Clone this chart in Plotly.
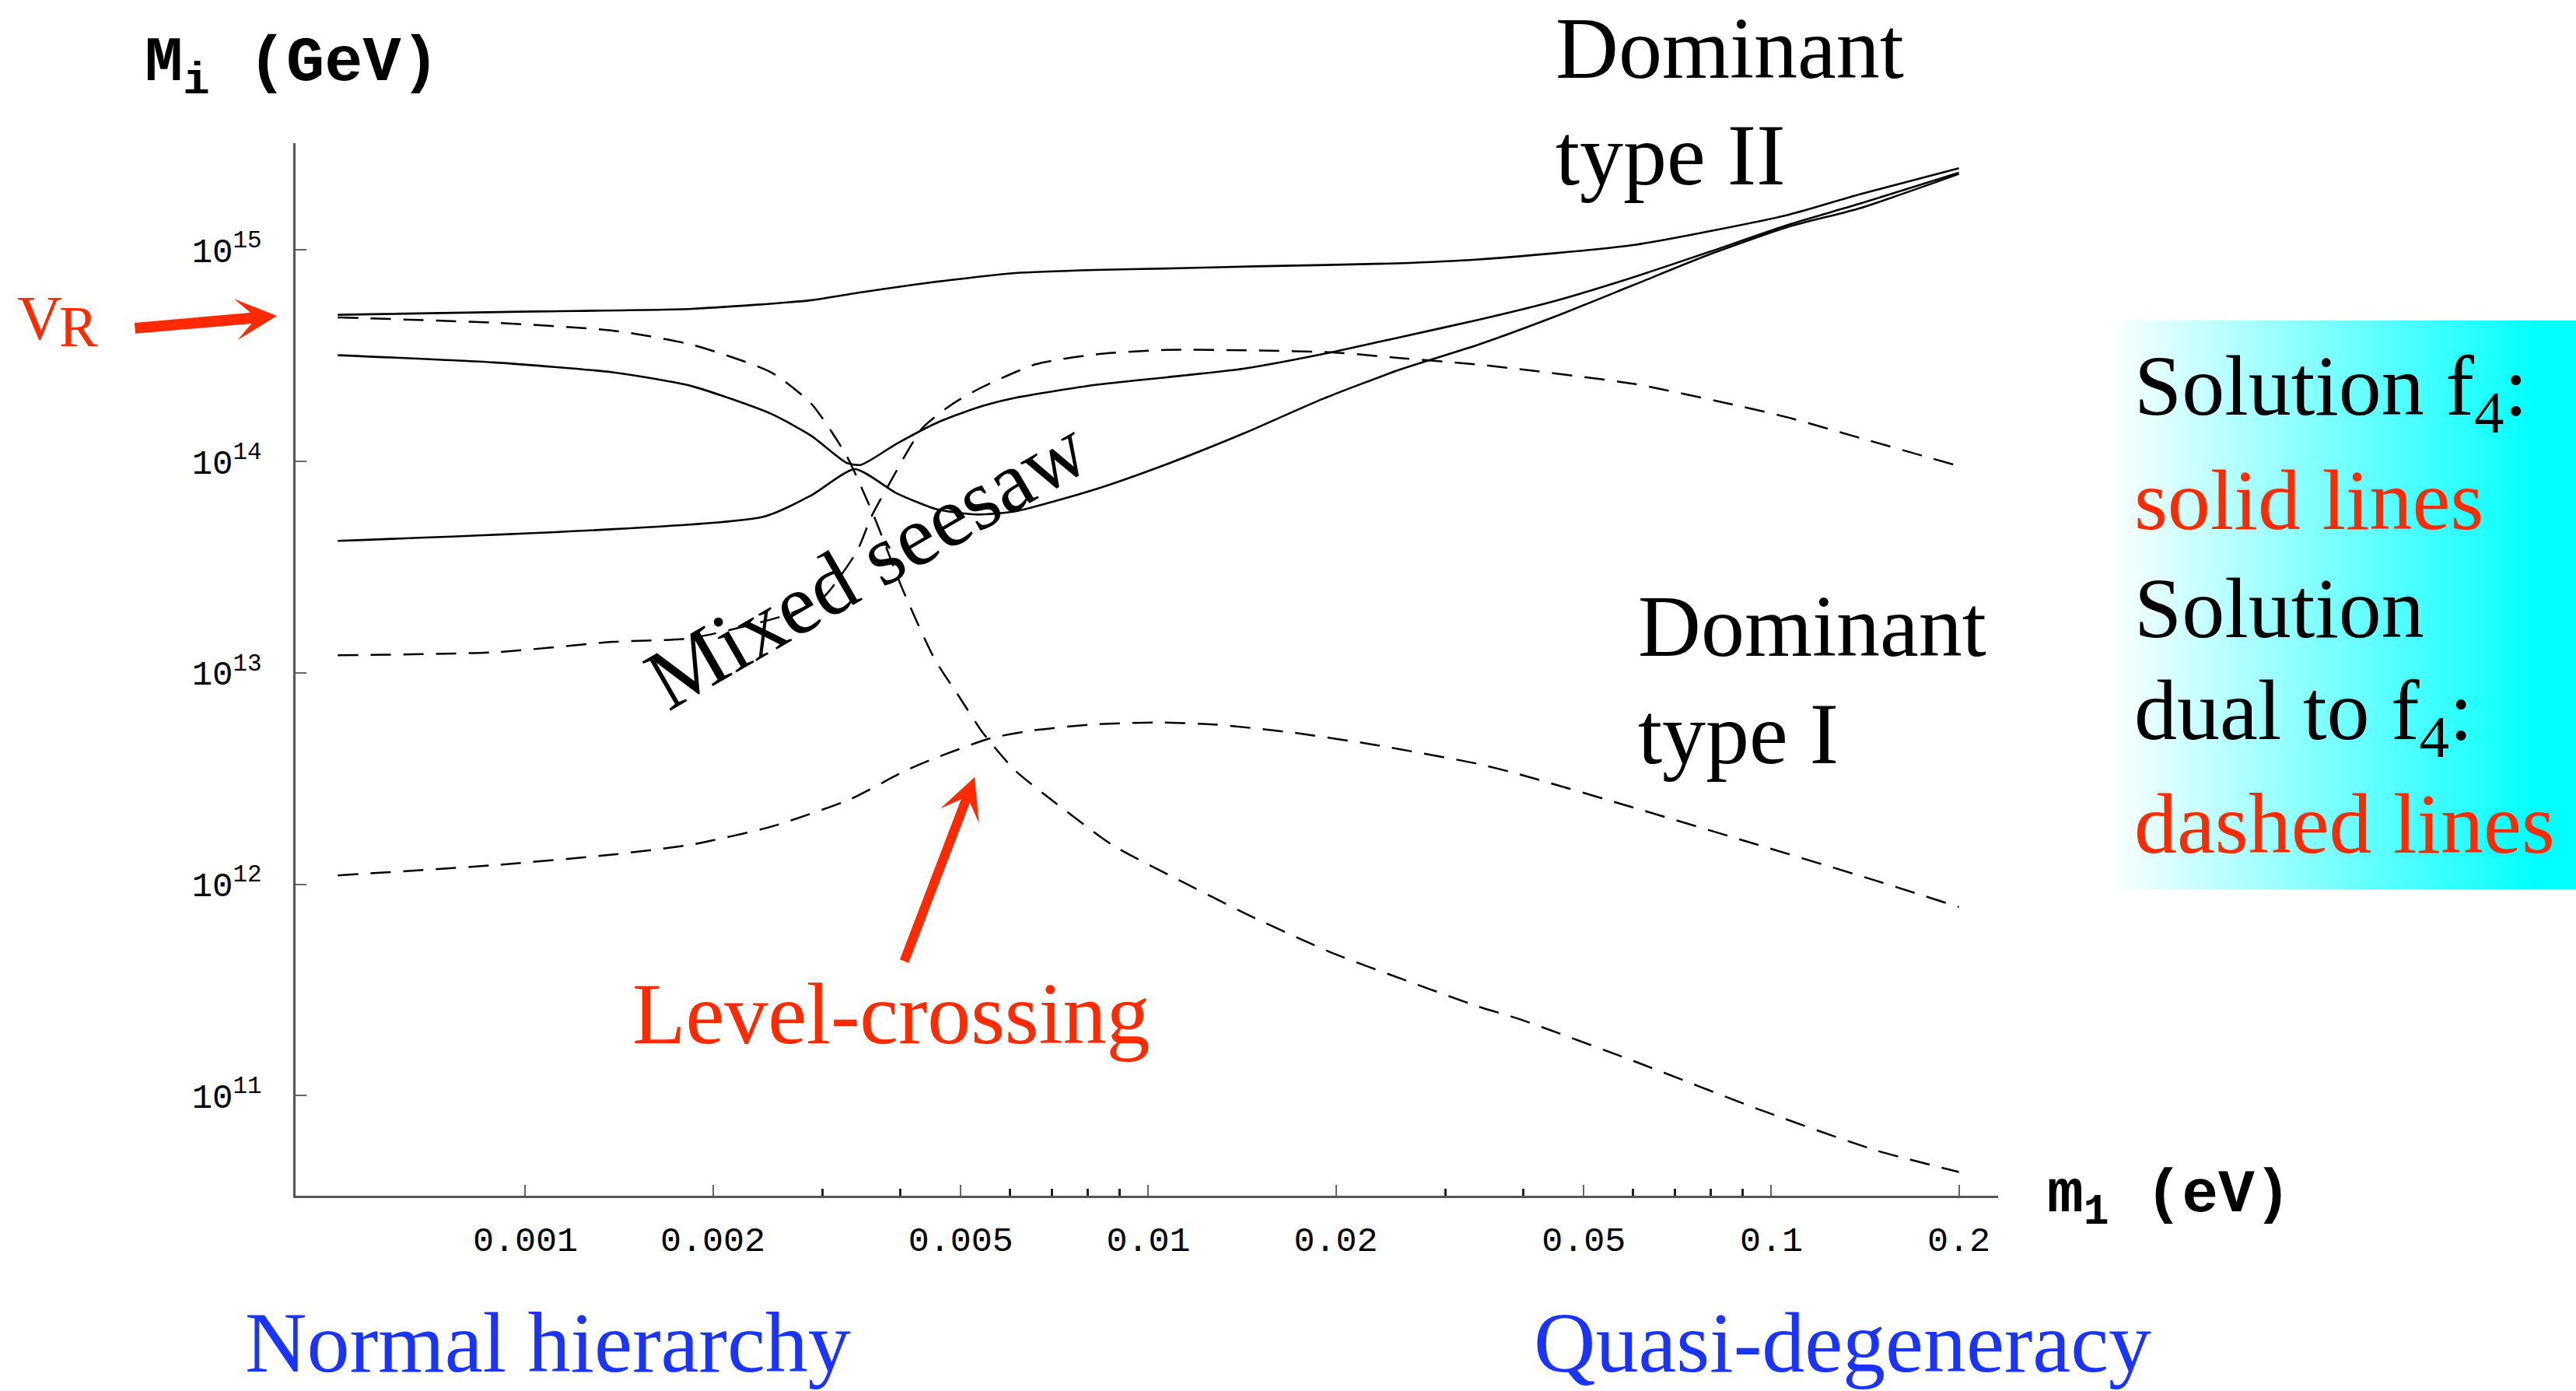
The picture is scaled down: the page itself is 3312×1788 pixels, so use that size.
import plotly.graph_objects as go

# ---------------- data (m1 in eV, M in GeV) ----------------
# Solution f4 : solid lines
s1_m1 = [0.0005, 0.00103, 0.00185, 0.00288, 0.00341, 0.0042, 0.00457, 0.00612, 0.00822,
         0.0107, 0.0148, 0.0251, 0.0338, 0.06, 0.1067, 0.139, 0.2]
s1_M = [4.94e14, 5.12e14, 5.27e14, 5.79e14, 6.27e14, 6.85e14, 7.08e14, 7.78e14, 8.05e14,
        8.18e14, 8.37e14, 8.65e14, 9.02e14, 1.055e15, 1.47e15, 1.84e15, 2.44e15]

s2_m1 = [0.0005, 0.00089, 0.00138, 0.00185, 0.00248, 0.00288, 0.00328, 0.00346, 0.00394,
         0.00457, 0.00529, 0.00612, 0.00822, 0.0107, 0.01426, 0.01956, 0.02535, 0.0338,
         0.045, 0.06, 0.08, 0.1067, 0.139, 0.2]
s2_M = [3.18e14, 2.94e14, 2.64e14, 2.27e14, 1.68e14, 1.32e14, 9.84e13, 9.64e13, 1.21e14,
        1.52e14, 1.79e14, 2.0e14, 2.30e14, 2.50e14, 2.75e14, 3.27e14, 3.87e14, 4.67e14,
        5.75e14, 7.43e14, 9.86e14, 1.32e15, 1.66e15, 2.32e15]

s3_m1 = [0.0005, 0.00241, 0.00288, 0.00338, 0.00394, 0.00457, 0.00529, 0.00612, 0.00822,
         0.0107, 0.01426, 0.0190, 0.02535, 0.0338, 0.045, 0.06, 0.08, 0.1067, 0.139, 0.2]
s3_M = [4.21e13, 5.47e13, 6.92e13, 9.20e13, 7.08e13, 5.94e13, 5.61e13, 5.81e13, 7.38e13,
        9.70e13, 1.36e14, 1.97e14, 2.72e14, 3.56e14, 4.85e14, 6.82e14, 9.59e14, 1.29e15,
        1.58e15, 2.29e15]

# Solution dual to f4 : dashed lines
d1_m1 = [0.0005, 0.00089, 0.00138, 0.00185, 0.00248, 0.00288, 0.00328, 0.00364, 0.00404,
         0.00454, 0.00497, 0.00542, 0.0061, 0.00706, 0.00879, 0.01096, 0.01469, 0.01968,
         0.02642, 0.0338, 0.0394, 0.0611, 0.0948, 0.147, 0.2]
d1_M = [4.80e14, 4.53e14, 4.16e14, 3.57e14, 2.64e14, 1.87e14, 1.06e14, 5.37e13, 2.45e13,
        1.16e13, 7.71e12, 5.22e12, 3.47e12, 2.45e12, 1.52e12, 1.08e12, 7.0e11, 4.74e11,
        3.43e11, 2.64e11, 2.30e11, 1.43e11, 8.67e10, 5.51e10, 4.35e10]

d2_m1 = [0.0005, 0.00089, 0.00138, 0.00185, 0.00264, 0.00301, 0.00341, 0.00359, 0.00381,
         0.00434, 0.00485, 0.00537, 0.00659, 0.00822, 0.0107, 0.0148, 0.0198, 0.0251,
         0.0343, 0.06, 0.0895, 0.1067, 0.139, 0.2]
d2_M = [1.21e13, 1.25e13, 1.40e13, 1.46e13, 1.89e13, 2.28e13, 3.78e13, 5.45e13, 7.53e13,
        1.44e14, 1.87e14, 2.22e14, 2.88e14, 3.21e14, 3.37e14, 3.35e14, 3.28e14, 3.09e14,
        2.86e14, 2.33e14, 1.82e14, 1.61e14, 1.29e14, 9.5e13]

d3_m1 = [0.0005, 0.00089, 0.00138, 0.00185, 0.00248, 0.00333, 0.00404, 0.00454, 0.00558,
         0.00656, 0.00817, 0.0102, 0.0127, 0.0170, 0.0228, 0.0338, 0.0394, 0.0611, 0.0948,
         0.147, 0.2]
d3_M = [1.10e12, 1.23e12, 1.38e12, 1.54e12, 1.87e12, 2.53e12, 3.40e12, 3.94e12, 4.90e12,
        5.35e12, 5.70e12, 5.82e12, 5.70e12, 5.22e12, 4.59e12, 3.71e12, 3.31e12, 2.27e12,
        1.54e12, 1.04e12, 7.8e11]

x_tickvals = [0.001, 0.002, 0.005, 0.01, 0.02, 0.05, 0.1, 0.2]
x_ticktext = ["0.001", "0.002", "0.005", "0.01", "0.02", "0.05", "0.1", "0.2"]
x_minorvals = [0.003, 0.004, 0.006, 0.007, 0.008, 0.009, 0.03, 0.04, 0.06, 0.07, 0.08, 0.09]
y_tickvals = [1e11, 1e12, 1e13, 1e14, 1e15]
y_ticktext = ["10<sup>11</sup>", "10<sup>12</sup>", "10<sup>13</sup>", "10<sup>14</sup>", "10<sup>15</sup>"]

# ---------------- layout helpers ----------------
FW, FH = 3312, 1788


def px(x):
    return x / FW


def py(y):
    return 1 - y / FH


RED = "#ff2a00"
BLUE = "#1a33ff"
SERIF = "Liberation Serif"
MONO = "Liberation Mono"

fig = go.Figure()

for xs, ys in [(s1_m1, s1_M), (s2_m1, s2_M), (s3_m1, s3_M)]:
    fig.add_trace(go.Scatter(x=xs, y=ys, mode="lines",
                             line=dict(color="black", width=2.6, shape="spline", smoothing=0.6),
                             hoverinfo="skip", showlegend=False))
for xs, ys in [(d1_m1, d1_M), (d2_m1, d2_M), (d3_m1, d3_M)]:
    fig.add_trace(go.Scatter(x=xs, y=ys, mode="lines",
                             line=dict(color="black", width=2.5, dash="26px,16px",
                                       shape="spline", smoothing=0.6),
                             hoverinfo="skip", showlegend=False))

# gradient box (white -> cyan)
shapes = []
bx0, bx1, by0, by1 = 2709, 3312, 412, 1143
N = 100
for i in range(N):
    xa = bx0 + (bx1 - bx0) * i / N
    xb = bx0 + (bx1 - bx0) * (i + 1) / N + 0.8
    t = min(1.0, (i + 0.5) / N / 0.92)
    r = int(round(255 * (1 - t)))
    shapes.append(dict(type="rect", xref="paper", yref="paper", layer="below",
                       x0=px(xa), x1=px(min(xb, bx1)), y0=py(by1), y1=py(by0),
                       fillcolor="rgb(%d,255,255)" % r, line=dict(width=0)))

ann = []


def text(s, left, cy, size, color="black", family=SERIF, anchor="left", angle=0, cx=None,
         weight="normal"):
    ann.append(dict(text=s, xref="paper", yref="paper",
                    x=px(left if cx is None else cx), y=py(cy),
                    xanchor=anchor if cx is None else "center", yanchor="middle",
                    showarrow=False, textangle=angle,
                    font=dict(family=family, size=size, color=color, weight=weight)))


text("M<sub>i</sub> (GeV)", 184, 86, 82, family=MONO, weight="bold")
text("m<sub>1</sub> (eV)", 2630, 1540, 78, family=MONO, weight="bold")

text("Dominant", 1998, 62, 112)
text("type II", 1998, 199, 112)
text("Dominant", 2104, 805, 112)
text("type I", 2104, 943, 112)
text("Mixed seesaw", 0, 724, 111, angle=-30, cx=1114)
text("Level-crossing", 0, 1303, 112, color=RED, cx=1146)

text("V", 20, 409, 80, color=RED)
text("R", 74, 420, 74, color=RED)

for s, cy, col in [("Solution f<sub>4</sub>:", 504, "black"),
                   ("solid lines", 643, RED),
                   ("Solution", 782, "black"),
                   ("dual to f<sub>4</sub>:", 921, "black"),
                   ("dashed lines", 1059, RED)]:
    text(s, 2742, cy, 110, color=col)

text("Normal hierarchy", 313, 1726, 110, color=BLUE)
text("Quasi-degeneracy", 1970, 1726, 110, color=BLUE)

# arrows
ann.append(dict(text="", xref="paper", yref="paper", x=px(356), y=py(406),
                ax=172 - 356, ay=422 - 406, showarrow=True, arrowhead=3,
                arrowsize=0.63, arrowwidth=14, arrowcolor=RED, standoff=0))
ann.append(dict(text="", xref="paper", yref="paper", x=px(1253), y=py(999),
                ax=1162 - 1253, ay=1237 - 999, showarrow=True, arrowhead=3,
                arrowsize=0.74, arrowwidth=12, arrowcolor=RED, standoff=0))

fig.update_layout(
    width=FW, height=FH,
    margin=dict(l=0, r=0, t=0, b=0),
    paper_bgcolor="white", plot_bgcolor="white",
    showlegend=False,
    shapes=shapes,
    annotations=ann,
    xaxis=dict(type="log", range=[-3.3688, -0.636], domain=[px(380), px(2569)],
               showline=True, linecolor="#555", linewidth=2.5, showgrid=False, zeroline=False,
               ticks="inside", ticklen=14, tickwidth=2, tickcolor="#666",
               tickmode="array", tickvals=x_tickvals, ticktext=x_ticktext,
               tickfont=dict(family=MONO, size=45, color="black"), ticklabelstandoff=14,
               minor=dict(tickmode="array", tickvals=x_minorvals, ticks="inside",
                          ticklen=9, tickwidth=2.5, tickcolor="#222", showgrid=False)),
    yaxis=dict(type="log", range=[10.526, 15.5057], domain=[py(1537), py(184)],
               showline=True, linecolor="#555", linewidth=2.5, showgrid=False, zeroline=False,
               ticks="inside", ticklen=14, tickwidth=2, tickcolor="#666",
               tickmode="array", tickvals=y_tickvals, ticktext=y_ticktext,
               tickfont=dict(family=MONO, size=44, color="black"), ticklabelstandoff=32),
)

fig.write_html("out.html")
